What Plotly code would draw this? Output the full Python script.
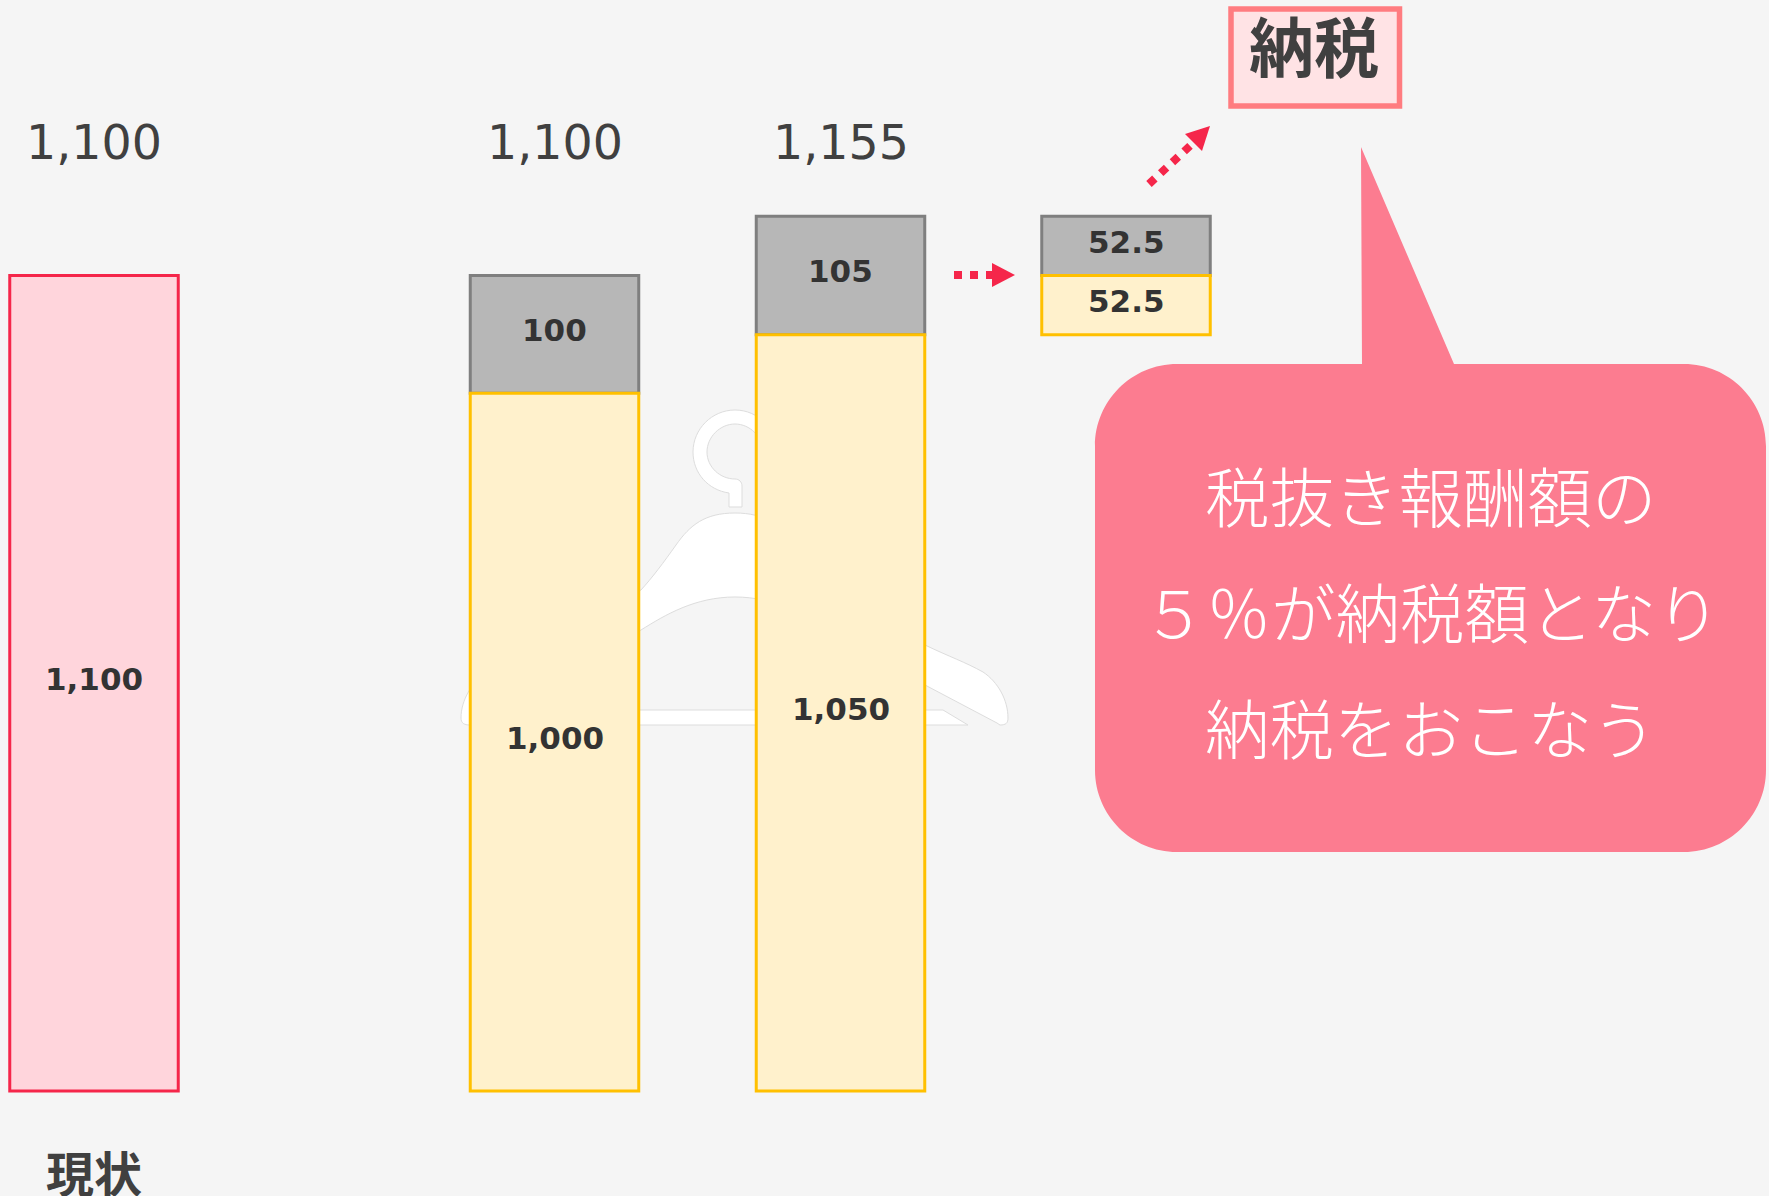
import plotly.graph_objects as go

# ---------- data (labels as printed; drawn heights) ----------
current_labels = ["1,100"]
current_drawn = [1100]
net_labels = ["1,000", "1,050", "52.5"]
net_drawn = [941, 1020, 80]
net_base = [0, 0, 1020]
tax_labels = ["100", "105", "52.5"]
tax_drawn = [159, 160, 80]
tax_base = [941, 1020, 1100]
total_labels = ["1,100", "1,100", "1,155"]
category_label = "現状"
box_label = "納税"
callout_lines = ["税抜き報酬額の", "５％が納税額となり", "納税をおこなう"]

# ---------- layout ----------
W, H = 1769, 1196
ZERO_PX = 1091
PX_PER_UNIT = 0.7414
BAR_W = 168.5
CUR_X = [94]
NET_X = [554.5, 840.5, 1126]
TOT_X = [94, 554.5, 840.5]
BG = "#F5F5F5"
DARK = "#404040"
JP = "Noto Sans CJK JP, DejaVu Sans, sans-serif"
NUM = "DejaVu Sans, sans-serif"
RED = "#F5264A"
CALLOUT = "#FC7C90"


def fx(x):
    return x / W


def fy(y):
    return 1 - y / H


def path(*parts):
    out = []
    for p in parts:
        if isinstance(p, str):
            out.append(p)
        else:
            out.append(f"{fx(p[0]):.5f},{fy(p[1]):.5f}")
    return " ".join(out)


def bar(x, drawn, base, fill, line):
    return go.Bar(
        x=x, y=drawn, base=base, width=BAR_W,
        marker=dict(color=fill, line=dict(color=line, width=3)),
        hoverinfo="skip", showlegend=False,
    )


def bar_notes(x, drawn, base, labels):
    return [dict(text=t, x=xv, y=b + d / 2, xref="x", yref="y", yshift=4,
                 xanchor="center", yanchor="middle", showarrow=False,
                 font=dict(family=NUM, size=31, color="#333333", weight="bold"))
            for t, xv, d, b in zip(labels, x, drawn, base)]


fig = go.Figure()
fig.add_trace(bar(CUR_X, current_drawn, [0], "#FFD5DC", "#F5264A"))
fig.add_trace(bar(NET_X, tax_drawn, tax_base, "#B7B7B7", "#7F7F7F"))
fig.add_trace(bar(NET_X, net_drawn, net_base, "#FFF1CC", "#FFC000"))

shapes = []
HANGER = dict(type="path", xref="paper", yref="paper", fillcolor="#FFFFFF",
              line=dict(color="#DDDDDD", width=1), layer="below")
# hook
shapes.append(dict(HANGER, path=path(
    "M", (729, 507), "L", (729, 493),
    "C", (708, 490), (693, 473), (693, 452),
    "C", (693, 429), (712, 410), (735, 410),
    "C", (758, 410), (777, 429), (777, 452),
    "L", (763, 452),
    "C", (763, 437), (750, 424), (735, 424),
    "C", (720, 424), (707, 437), (707, 452),
    "C", (707, 467), (720, 479), (735, 479),
    "C", (739, 479), (742, 482), (742, 486),
    "L", (742, 507), "Z")))
# crossbar
shapes.append(dict(HANGER, path=path(
    "M", (502, 725), "L", (527, 710), "L", (943, 710), "L", (968, 725), "Z")))
# arms
shapes.append(dict(HANGER, path=path(
    "M", (735, 513),
    "C", (705, 513), (690, 525), (676, 545),
    "C", (664, 562), (652, 578), (641, 590),
    "L", (545, 645),
    "C", (520, 657), (505, 662), (487, 672),
    "C", (472, 682), (461, 700), (461, 718),
    "C", (461, 723), (464, 725), (470, 725),
    "L", (473, 723), "L", (545, 685), "L", (641, 630),
    "C", (665, 615), (695, 597), (735, 597),
    "C", (775, 597), (805, 615), (829, 630),
    "L", (925, 685), "L", (997, 723), "L", (1000, 725),
    "C", (1006, 725), (1008, 723), (1008, 718),
    "C", (1008, 700), (998, 682), (983, 672),
    "C", (965, 662), (950, 657), (925, 645),
    "L", (829, 590),
    "C", (818, 578), (806, 562), (794, 545),
    "C", (780, 525), (765, 513), (735, 513), "Z")))

# callout
R = 82
L_, T_, R_, B_ = 1095, 364, 1766, 852
k = 0.45 * R
shapes.append(dict(type="path", xref="paper", yref="paper", fillcolor=CALLOUT,
                   line=dict(width=0), layer="above", path=path(
    "M", (L_ + R, T_), "L", (1362, T_), "L", (1361, 147), "L", (1454, T_),
    "L", (R_ - R, T_),
    "C", (R_ - k, T_), (R_, T_ + k), (R_, T_ + R),
    "L", (R_, B_ - R),
    "C", (R_, B_ - k), (R_ - k, B_), (R_ - R, B_),
    "L", (L_ + R, B_),
    "C", (L_ + k, B_), (L_, B_ - k), (L_, B_ - R),
    "L", (L_, T_ + R),
    "C", (L_, T_ + k), (L_ + k, T_), (L_ + R, T_), "Z")))

# box
shapes.append(dict(type="rect", xref="paper", yref="paper",
                   x0=fx(1231), x1=fx(1399.5), y0=fy(9), y1=fy(106),
                   fillcolor="#FFE3E5", line=dict(color="#FF7C80", width=5.5), layer="above"))

# dotted arrows
for (x0, y0, x1, y1) in [(954, 275, 992, 275), (1149, 184, 1192, 144)]:
    shapes.append(dict(type="line", xref="paper", yref="paper",
                       x0=fx(x0), y0=fy(y0), x1=fx(x1), y1=fy(y1),
                       line=dict(color=RED, width=8, dash="dot"), layer="above"))
shapes.append(dict(type="path", xref="paper", yref="paper", fillcolor=RED,
                   line=dict(width=0), layer="above",
                   path=path("M", (992, 263), "L", (1015, 275), "L", (992, 287), "Z")))
shapes.append(dict(type="path", xref="paper", yref="paper", fillcolor=RED,
                   line=dict(width=0), layer="above",
                   path=path("M", (1185, 134), "L", (1210, 126), "L", (1202, 151), "Z")))


def note(text, x, y, size, color, family=JP, weight="normal"):
    return dict(text=text, x=fx(x), y=fy(y), xref="paper", yref="paper",
                xanchor="center", yanchor="middle", showarrow=False,
                font=dict(family=family, size=size, color=color, weight=weight))


annotations = [note(t, x, 142, 47.5, DARK, NUM) for t, x in zip(total_labels, TOT_X)]
annotations += bar_notes(CUR_X, current_drawn, [0], current_labels)
annotations += bar_notes(NET_X, net_drawn, net_base, net_labels)
annotations += bar_notes(NET_X, tax_drawn, tax_base, tax_labels)
annotations.append(note(category_label, 94, 1171, 48, DARK, JP, "bold"))
annotations.append(note(box_label, 1314, 44, 65, DARK, JP, "bold"))
for t, y in zip(callout_lines, [494, 610, 726]):
    annotations.append(note(t, 1431, y, 64.5, "#FFFFFF", JP, 300))

fig.update_layout(
    width=W, height=H, margin=dict(l=0, r=0, t=0, b=0),
    paper_bgcolor=BG, plot_bgcolor=BG, barmode="overlay",
    xaxis=dict(range=[0, W], visible=False, fixedrange=True),
    yaxis=dict(range=[(ZERO_PX - H) / PX_PER_UNIT, ZERO_PX / PX_PER_UNIT],
               visible=False, fixedrange=True),
    shapes=shapes, annotations=annotations,
)

fig.write_html(
    "out.html",
    config=dict(displayModeBar=False),
    post_script="document.body.style.margin='0';document.body.style.overflow='hidden';"
                "document.body.style.background='#F5F5F5';",
)
